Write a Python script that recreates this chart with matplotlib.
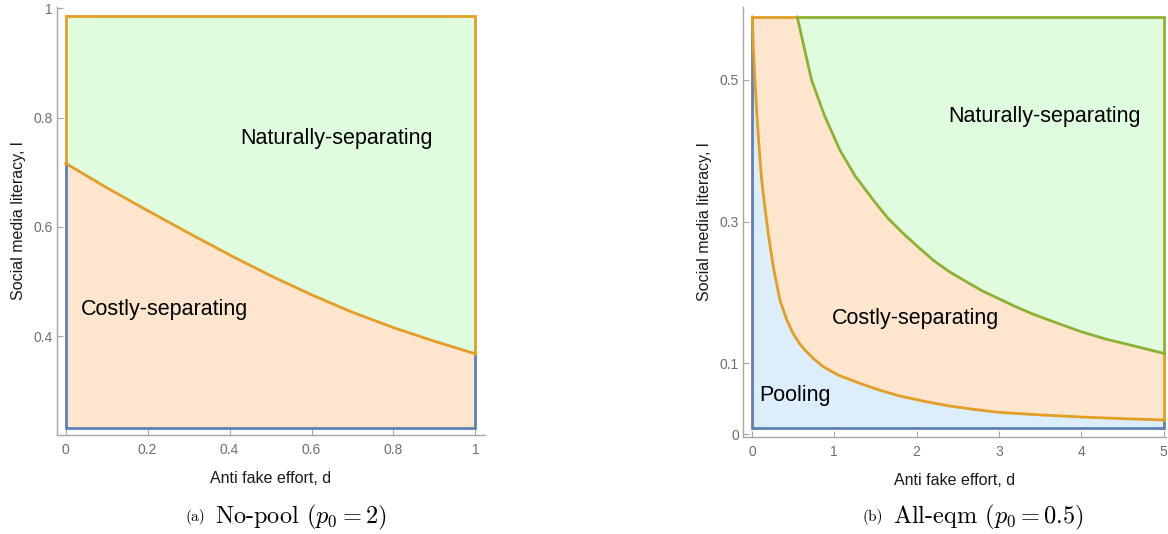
import numpy as np
import matplotlib
matplotlib.use("Agg")
import matplotlib.pyplot as plt

plt.rcParams['font.family'] = ['Liberation Sans', 'DejaVu Sans']
plt.rcParams['mathtext.fontset'] = 'cm'

# ---------------- data ----------------
# Panel (a): No-pool
a_dmin, a_dmax = 0.0, 1.0
a_lmin, a_lmax = 0.233, 0.9865
a_d = [0, 0.1, 0.2, 0.3, 0.4, 0.5, 0.6, 0.7, 0.8, 0.9, 1.0]
a_l = [0.7165, 0.672, 0.630, 0.589, 0.549, 0.511, 0.476, 0.444, 0.416, 0.391, 0.368]
a_xticks = [0, 0.2, 0.4, 0.6, 0.8, 1.0]
a_xticklabels = ["0", "0.2", "0.4", "0.6", "0.8", "1"]
a_yticks = [0.4, 0.6, 0.8, 1.0]
a_yticklabels = ["0.4", "0.6", "0.8", "1"]

# Panel (b): All-eqm
b_dmin, b_dmax = 0.0, 5.0
b_lmin, b_lmax = 0.008, 0.589
b_pool_d = [0.004, 0.015, 0.036, 0.06, 0.089, 0.115, 0.146, 0.198, 0.259, 0.34,
            0.42, 0.50, 0.57, 0.643, 0.744, 0.866, 1.047, 1.31, 1.55, 1.796,
            2.1, 2.4, 2.7, 3.0, 3.5, 4.0, 4.5, 5.0]
b_pool_l = [0.589, 0.55, 0.5, 0.45, 0.401, 0.362, 0.33, 0.283, 0.236, 0.189,
            0.162, 0.142, 0.129, 0.1186, 0.1069, 0.095, 0.0833, 0.0716, 0.062, 0.0537,
            0.046, 0.0395, 0.0347, 0.0306, 0.027, 0.024, 0.0217, 0.0198]
b_nat_d = [0.55, 0.62, 0.724, 0.88, 1.068, 1.25, 1.49, 1.65, 1.84, 2.0, 2.2, 2.4,
           2.606, 2.8, 3.0, 3.2, 3.41, 3.7, 4.0, 4.3, 4.63, 5.0]
b_nat_l = [0.589, 0.553, 0.5, 0.45, 0.401, 0.365, 0.328, 0.305, 0.283, 0.266, 0.2457, 0.229,
           0.215, 0.202, 0.191, 0.180, 0.1695, 0.157, 0.1445, 0.134, 0.1247, 0.114]
b_xticks = [0, 1, 2, 3, 4, 5]
b_xticklabels = ["0", "1", "2", "3", "4", "5"]
b_yticks = [0, 0.1, 0.3, 0.5]
b_yticklabels = ["0", "0.1", "0.3", "0.5"]

xlabel = "Anti fake effort, d"
ylabel = "Social media literacy, l"

# ---------------- style ----------------
C_BLUE = '#5E81B5'
C_ORANGE = '#E39E26'
C_GREEN = '#8FB032'
F_GREEN = '#DFFCDF'
F_PEACH = '#FEE5CD'
F_BLUE = '#DCEDFC'
LW = 2.0
AX_COL = '#A6A6A6'
TICK_COL = '#6E6E6E'
W, H = 1168, 534

fig = plt.figure(figsize=(W / 100, H / 100), dpi=100)

def make_axes(x0, x1, ytop, ybot):
    return fig.add_axes([x0 / W, 1 - ybot / H, (x1 - x0) / W, (ybot - ytop) / H])

def style(ax, xt, xtl, yt, ytl):
    for s in ['top', 'right']:
        ax.spines[s].set_visible(False)
    for s in ['left', 'bottom']:
        ax.spines[s].set_color(AX_COL)
        ax.spines[s].set_linewidth(1.0)
    ax.set_xticks(xt)
    ax.set_xticklabels(xtl)
    ax.set_yticks(yt)
    ax.set_yticklabels(ytl)
    ax.tick_params(direction='in', length=4, width=0.8, color=AX_COL,
                   labelcolor=TICK_COL, labelsize=10)
    ax.tick_params(axis='x', pad=6)
    ax.tick_params(axis='y', pad=3)
    ax.set_xlabel(xlabel, fontsize=11.5, color='#1a1a1a', labelpad=10)
    ax.set_ylabel(ylabel, fontsize=11.5, color='#1a1a1a', labelpad=5.5)

# ---------------- panel (a) ----------------
ax1 = make_axes(57, 485, 6.7, 435)
ax1.set_xlim(-0.0212, 1.0234)
ax1.set_ylim(0.2195, 1.003)
style(ax1, a_xticks, a_xticklabels, a_yticks, a_yticklabels)

ax1.fill([a_dmin] + a_d + [a_dmax], [a_lmax] + a_l + [a_lmax], color=F_GREEN, lw=0)
ax1.fill([a_dmin] + a_d + [a_dmax], [a_lmin] + a_l + [a_lmin], color=F_PEACH, lw=0)
ax1.plot([a_dmin, a_dmin, a_dmax, a_dmax], [a_l[0], a_lmin, a_lmin, a_l[-1]],
         color=C_BLUE, lw=LW, solid_joinstyle='miter')
ax1.plot([a_dmin, a_dmin, a_dmax, a_dmax], [a_l[0], a_lmax, a_lmax, a_l[-1]],
         color=C_ORANGE, lw=LW, solid_joinstyle='miter')
ax1.plot(a_d, a_l, color=C_ORANGE, lw=LW, solid_joinstyle='round')

ax1.text(0.425, 0.762, "Naturally-separating", fontsize=15.5, ha='left', va='center')
ax1.text(0.037, 0.449, "Costly-separating", fontsize=15.5, ha='left', va='center')

# ---------------- panel (b) ----------------
ax2 = make_axes(743, 1166, 6.7, 436.7)
ax2.set_xlim(-0.109, 5.03)
ax2.set_ylim(-0.0038, 0.6035)
style(ax2, b_xticks, b_xticklabels, b_yticks, b_yticklabels)

ax2.fill([b_dmin, b_dmin] + b_pool_d + [b_dmax],
         [b_lmin, b_lmax] + b_pool_l + [b_lmin], color=F_BLUE, lw=0)
ax2.fill(b_pool_d + [b_dmax] + b_nat_d[::-1],
         b_pool_l + [b_nat_l[-1]] + b_nat_l[::-1], color=F_PEACH, lw=0)
ax2.fill(b_nat_d + [b_dmax], b_nat_l + [b_lmax], color=F_GREEN, lw=0)

ax2.plot([b_dmin, b_dmin, b_dmax, b_dmax], [b_lmax, b_lmin, b_lmin, b_pool_l[-1]],
         color=C_BLUE, lw=LW, solid_joinstyle='miter')
ax2.plot([b_dmax, b_dmax], [b_pool_l[-1], b_nat_l[-1]], color=C_ORANGE, lw=LW)
ax2.plot([b_pool_d[0], b_nat_d[0]], [b_lmax, b_lmax], color=C_ORANGE, lw=LW)
ax2.plot(b_pool_d, b_pool_l, color=C_ORANGE, lw=LW, solid_joinstyle='round')
ax2.plot([b_nat_d[0], b_dmax, b_dmax], [b_lmax, b_lmax, b_nat_l[-1]],
         color=C_GREEN, lw=LW, solid_joinstyle='miter')
ax2.plot(b_nat_d, b_nat_l, color=C_GREEN, lw=LW, solid_joinstyle='round')

ax2.text(2.382, 0.4485, "Naturally-separating", fontsize=15.5, ha='left', va='center')
ax2.text(0.967, 0.1633, "Costly-separating", fontsize=15.5, ha='left', va='center')
ax2.text(0.089, 0.054, "Pooling", fontsize=15.5, ha='left', va='center')

# ---------------- captions ----------------
cy = 1 - 517 / H
fig.text(205 / W, cy, "(a)", ha='right', va='center', fontsize=11, family='cmr10')
fig.text(215 / W, cy, r"No-pool ($p_0 = 2$)", ha='left', va='center', fontsize=17.5, family='cmr10')
fig.text(883 / W, cy, "(b)", ha='right', va='center', fontsize=11, family='cmr10')
fig.text(893 / W, cy, r"All-eqm ($p_0 = 0.5$)", ha='left', va='center', fontsize=17.5, family='cmr10')

fig.savefig("out.png", dpi=100)
